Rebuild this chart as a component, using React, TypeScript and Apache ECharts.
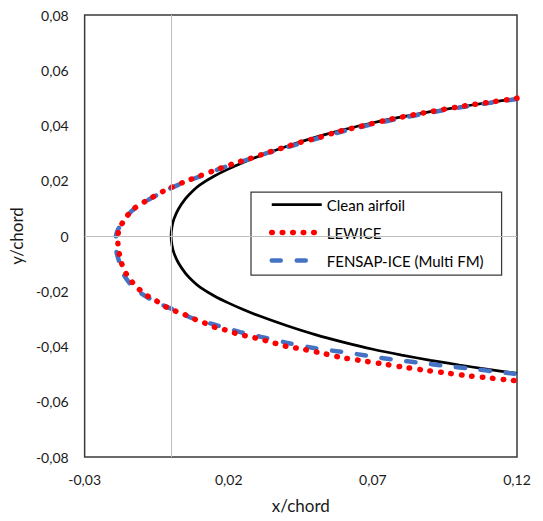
import React, { useEffect, useRef } from "react";
import * as echarts from "echarts";

// Axis setup
const xMin = -0.03;
const xMax = 0.12;
const xStep = 0.05;
const yMin = -0.08;
const yMax = 0.08;
const yStep = 0.02;

const seriesNames = ["Clean airfoil", "LEWICE", "FENSAP-ICE (Multi FM)"];

// Clean airfoil (upper surface from trailing side to leading edge, then lower surface)
const cleanX = [
  0.12, 0.11, 0.1, 0.09, 0.08, 0.07, 0.06, 0.05, 0.04, 0.03, 0.025, 0.02, 0.015, 0.01, 0.0075, 0.005, 0.0025, 0.001,
  0.0003, 0, 0.0003, 0.001, 0.0025, 0.005, 0.0075, 0.01, 0.015, 0.02, 0.025, 0.03, 0.04, 0.05, 0.06, 0.07, 0.08, 0.09,
  0.1, 0.11, 0.12,
];
const cleanY = [
  0.0497, 0.0483, 0.0467, 0.045, 0.0431, 0.041, 0.0385, 0.0357, 0.0324, 0.0287, 0.0266, 0.0243, 0.0217, 0.0185,
  0.0163, 0.0135, 0.0097, 0.0062, 0.0033, 0, -0.0033, -0.0062, -0.0097, -0.0135, -0.0163, -0.0185, -0.0217, -0.0243,
  -0.0266, -0.0287, -0.0324, -0.0357, -0.0385, -0.041, -0.0431, -0.045, -0.0467, -0.0483, -0.0497,
];

// LEWICE ice shape
const lewiceX = [
  0.12, 0.1178, 0.1103, 0.1, 0.09, 0.0843, 0.075, 0.0662, 0.058, 0.0517, 0.0445, 0.0411, 0.0338, 0.0267, 0.0231,
  0.016, 0.0093, 0.0056, -0.0014, -0.0077, -0.0135, -0.0164, -0.0181, -0.0185, -0.0181, -0.0173, -0.0158, -0.0138,
  -0.0115, -0.0083, -0.0051, -0.0019, 0.0015, 0.005, 0.0084, 0.0119, 0.0154, 0.0188, 0.0223, 0.026, 0.0296, 0.0333,
  0.037, 0.0405, 0.0442, 0.0514, 0.0587, 0.0659, 0.0734, 0.0808, 0.0881, 0.0956, 0.103, 0.1104, 0.1179, 0.12,
];
const lewiceY = [
  0.0499, 0.0495, 0.0484, 0.0468, 0.045, 0.0439, 0.042, 0.0398, 0.0378, 0.0358, 0.0338, 0.0327, 0.0303, 0.0278,
  0.0267, 0.0241, 0.0215, 0.02, 0.0169, 0.0133, 0.0094, 0.0055, 0.0022, -0.0017, -0.0057, -0.0095, -0.0133, -0.0163,
  -0.0189, -0.0216, -0.0235, -0.0256, -0.0272, -0.0286, -0.0302, -0.0316, -0.0331, -0.034, -0.0352, -0.0362, -0.037,
  -0.038, -0.0391, -0.0401, -0.0407, -0.0422, -0.0439, -0.0451, -0.0463, -0.0475, -0.0486, -0.0496, -0.0506, -0.0514,
  -0.0522, -0.0524,
];

// FENSAP-ICE (Multi FM) ice shape
const fensapX = [
  0.12, 0.11, 0.1, 0.09, 0.08, 0.07, 0.06, 0.05, 0.044, 0.0338, 0.0267, 0.0231, 0.016, 0.0093, 0.004, -0.0014,
  -0.0077, -0.0135, -0.016, -0.0185, -0.0193, -0.019, -0.0178, -0.0164, -0.014, -0.0106, -0.0065, -0.0025, 0.002,
  0.0067, 0.011, 0.0154, 0.02, 0.024, 0.029, 0.0333, 0.0414, 0.0509, 0.0597, 0.0684, 0.0774, 0.0865, 0.0956, 0.1045,
  0.1134, 0.12,
];
const fensapY = [
  0.0496, 0.0481, 0.0465, 0.0447, 0.0427, 0.0405, 0.038, 0.0351, 0.0333, 0.0302, 0.0277, 0.0265, 0.024, 0.0213, 0.0192,
  0.0167, 0.0132, 0.0092, 0.006, 0.0022, -0.0015, -0.0055, -0.01, -0.0141, -0.0175, -0.0206, -0.0232, -0.0252, -0.0272,
  -0.0295, -0.0309, -0.0322, -0.0336, -0.0348, -0.036, -0.037, -0.0389, -0.0408, -0.042, -0.0434, -0.0448, -0.0459,
  -0.0471, -0.0481, -0.0492, -0.05,
];

const zip = (xs: number[], ys: number[]) => xs.map((x, i) => [x, ys[i]]);

const fmt = (v: number) => (Math.abs(v) < 1e-9 ? "0" : v.toFixed(2).replace(".", ","));

const FONT = "Lato, 'Noto Sans', sans-serif";

const cleanLine = { color: "#000000", width: 2.75, type: "solid", cap: "butt" };
const lewiceLine = { color: "#FF0000", width: 5.5, type: [0.5, 10], cap: "round" };
const fensapLine = { color: "#4472C4", width: 4.5, type: [9, 16], cap: "round" };

export default function App() {
  const ref = useRef<HTMLDivElement>(null);

  useEffect(() => {
    if (!ref.current) return;
    const chart = echarts.init(ref.current, null, { renderer: "svg" });
    chart.setOption({
      animation: false,
      backgroundColor: "#ffffff",
      textStyle: { fontFamily: FONT },
      grid: {
        left: 84,
        right: 26,
        top: 15,
        bottom: 64,
        show: true,
        borderColor: "#3a3a3a",
        borderWidth: 1.5,
        backgroundColor: "transparent",
      },
      legend: {
        data: [
          { name: seriesNames[0], lineStyle: cleanLine },
          { name: seriesNames[1], lineStyle: lewiceLine },
          { name: seriesNames[2], lineStyle: fensapLine },
        ],
        orient: "vertical",
        left: 251,
        top: 192,
        itemWidth: 50,
        itemHeight: 16,
        itemGap: 13,
        padding: [5, 18, 7, 18],
        backgroundColor: "#ffffff",
        borderColor: "#3a3a3a",
        borderWidth: 1.25,
        borderRadius: 0,
        itemStyle: { opacity: 0 },
        lineStyle: { width: "inherit", type: "inherit", cap: "inherit" },
        textStyle: { fontFamily: FONT, fontSize: 15, color: "#000" },
      },
      xAxis: {
        type: "value",
        min: xMin,
        max: xMax,
        interval: xStep,
        name: "x/chord",
        nameLocation: "middle",
        nameGap: 40,
        nameTextStyle: { fontFamily: FONT, fontSize: 17, color: "#1a1a1a" },
        axisLine: { show: false },
        axisTick: { show: false },
        splitLine: { show: false },
        axisLabel: { formatter: fmt, margin: 15, fontFamily: FONT, fontSize: 14, color: "#1a1a1a" },
      },
      yAxis: {
        type: "value",
        min: yMin,
        max: yMax,
        interval: yStep,
        name: "y/chord",
        nameLocation: "middle",
        nameGap: 44,
        nameTextStyle: { fontFamily: FONT, fontSize: 17, color: "#1a1a1a" },
        axisLine: { show: false },
        axisTick: { show: false },
        splitLine: { show: false },
        axisLabel: { formatter: fmt, margin: 16, fontFamily: FONT, fontSize: 14, color: "#1a1a1a" },
      },
      series: [
        {
          name: "zero-lines",
          type: "line",
          data: [],
          z: 1,
          silent: true,
          markLine: {
            silent: true,
            symbol: "none",
            label: { show: false },
            lineStyle: { color: "#bfbfbf", type: "solid", width: 1 },
            data: [{ xAxis: 0 }, { yAxis: 0 }],
          },
        },
        {
          name: seriesNames[0],
          type: "line",
          z: 2,
          data: zip(cleanX, cleanY),
          showSymbol: false,
          symbol: "none",
          smooth: 0.2,
          color: "#000000",
          lineStyle: cleanLine,
        },
        {
          name: seriesNames[2],
          type: "line",
          z: 3,
          data: zip(fensapX, fensapY),
          showSymbol: false,
          symbol: "none",
          smooth: 0.3,
          color: "#4472C4",
          lineStyle: fensapLine,
        },
        {
          name: seriesNames[1],
          type: "line",
          z: 4,
          data: zip(lewiceX, lewiceY),
          showSymbol: false,
          symbol: "none",
          smooth: 0.3,
          color: "#FF0000",
          lineStyle: lewiceLine,
        },
      ],
    });
    return () => chart.dispose();
  }, []);

  return (
    <div
      ref={ref}
      style={{ position: "fixed", left: 0, top: 0, width: 543, height: 521, background: "#fff" }}
    />
  );
}
